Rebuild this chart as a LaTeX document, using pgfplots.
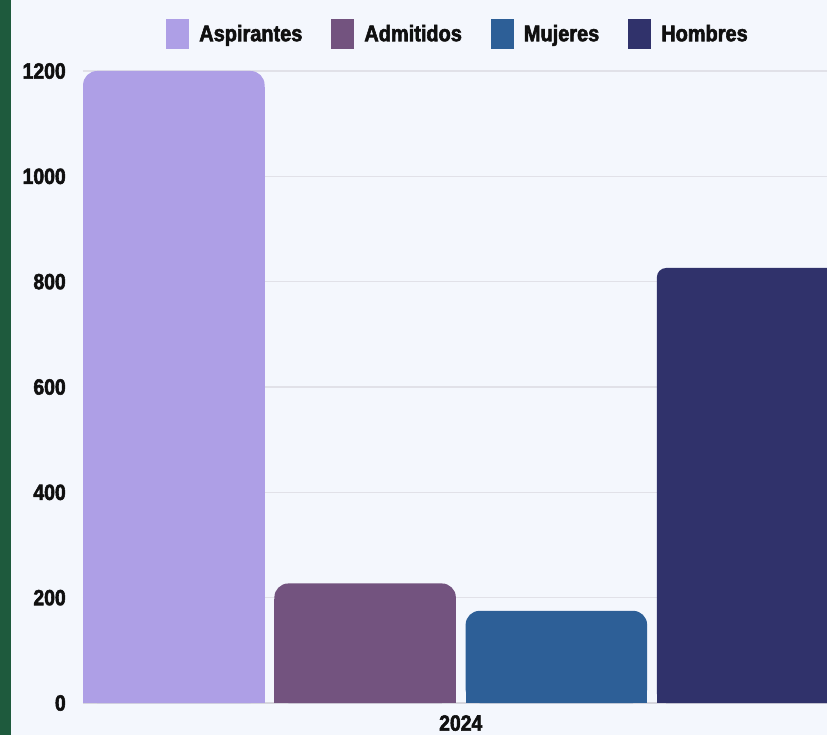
\documentclass[border=0pt]{standalone}
\usepackage{pgfplots}
\pgfplotsset{compat=1.18}
\usetikzlibrary{backgrounds}
\usepackage{fontspec}
\setmainfont{Liberation Sans}
\newfontfamily\chartfont{Liberation Sans Bold}[FakeStretch=0.88, FakeBold=2.5]
\definecolor{bgc}{HTML}{F4F7FD}
\definecolor{greenc}{HTML}{1E5A3D}
\definecolor{cA}{HTML}{AE9FE6}
\definecolor{cB}{HTML}{73537F}
\definecolor{cC}{HTML}{2D5F97}
\definecolor{cD}{HTML}{30326B}
\definecolor{gridc}{HTML}{E1E1E8}
\definecolor{axisc}{HTML}{D6D6DE}
\definecolor{txt}{HTML}{101010}
\pgfplotsset{
  sq/.style={legend image code/.code={%
      \fill[##1, sharp corners] (0pt,-11.25pt) rectangle (17.25pt,11.25pt);
      \path (24.75pt,0pt);}},
  rbar/.style={ybar, bar width=0.949, bar shift=0pt, draw=none, rounded corners=10.5pt, sq},
  sbar/.style={ybar, bar width=0.949, bar shift=0pt, draw=none, sharp corners, forget plot},
}
\begin{document}
\begin{tikzpicture}
\begin{axis}[
  name=ax,
  scale only axis, width=558pt, height=474pt,
  xmin=-1.975, xmax=1.915, ymin=0, ymax=1200,
  xtick={0}, xticklabels={2024},
  ytick={0,200,400,600,800,1000,1200},
  scaled y ticks=false,
  /pgf/number format/assume math mode=true,
  /pgf/number format/1000 sep={},
  major tick length=0pt,
  ymajorgrids, grid style={color=gridc, line width=1.2pt},
  axis x line*=bottom, axis y line*=left,
  y axis line style={draw=none},
  x axis line style={color=axisc, line width=1.2pt, -},
  yticklabel style={font=\chartfont\fontsize{16.5}{18}\selectfont, text=txt, inner sep=0pt, xshift=-12.75pt},
  xticklabel style={font=\chartfont\fontsize{16.5}{18}\selectfont, text=txt, inner sep=0pt, yshift=-9pt},
  legend columns=4,
  legend style={at={(0.5027,1.0585)}, anchor=center, draw=none, fill=none,
    font=\chartfont\fontsize{17}{19}\selectfont,
    nodes={inner sep=0pt, text=txt},
    /tikz/every even column/.append style={column sep=21.75pt}},
]
\addplot[rbar, fill=cA] coordinates {(-1.5,1200)};
\addlegendentry{Aspirantes}
\addplot[sbar, fill=cA] coordinates {(-1.5,1170)};
\addplot[rbar, fill=cB] coordinates {(-0.5,227)};
\addlegendentry{Admitidos}
\addplot[sbar, fill=cB] coordinates {(-0.5,197)};
\addplot[rbar, fill=cC] coordinates {(0.5,175)};
\addlegendentry{Mujeres}
\addplot[sbar, fill=cC] coordinates {(0.5,145)};
\addplot[rbar, fill=cD, rounded corners=7pt] coordinates {(1.5,826)};
\addlegendentry{Hombres}
\addplot[sbar, fill=cD] coordinates {(1.5,796)};
\end{axis}
\begin{scope}[on background layer, shift={(ax.south west)}, x=0.75pt, y=0.75pt]
\fill[bgc] (-83,-32) rectangle (744,703);
\fill[greenc] (-83,-32) rectangle (-72,703);
\end{scope}
\pgfresetboundingbox
\path[use as bounding box, shift={(ax.south west)}, x=0.75pt, y=0.75pt] (-83,-32) rectangle (744,703);
\end{tikzpicture}
\end{document}
